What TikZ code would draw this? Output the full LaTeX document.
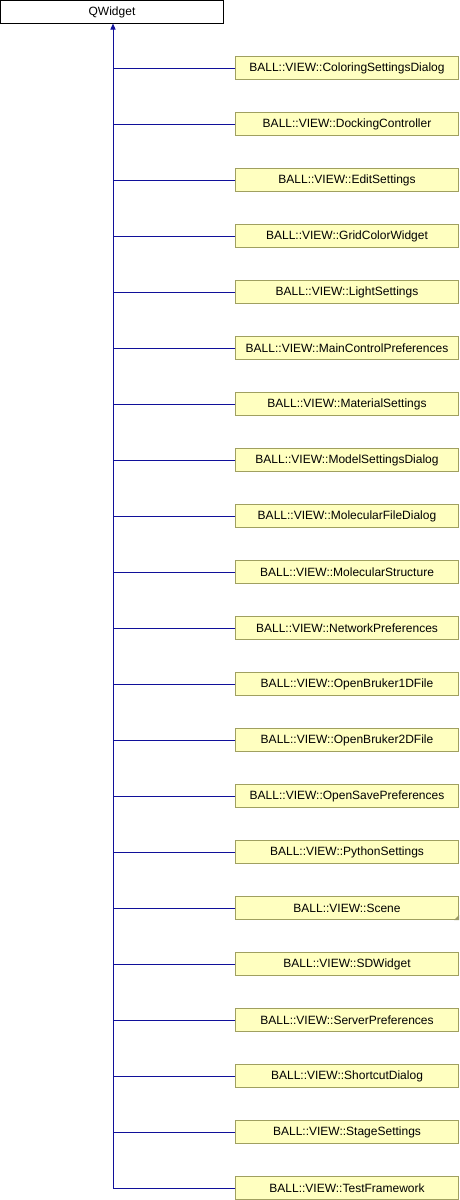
\documentclass[tikz,border=0pt]{standalone}
\usepackage{fontspec}
\setmainfont{Liberation Sans}
\usetikzlibrary{arrows.meta}
\definecolor{boxfill}{HTML}{FFFFC0}
\definecolor{boxdraw}{HTML}{A0A060}
\definecolor{edgeblue}{HTML}{10109A}
\begin{document}
\begin{tikzpicture}[x=1pt,y=-1pt,
  base/.style={draw, line width=1pt, minimum width=223pt, minimum height=23pt, inner sep=0pt, font=\fontsize{12}{14}\selectfont, anchor=center},
  rootbox/.style={base, draw=black, fill=white},
  classbox/.style={base, draw=boxdraw, fill=boxfill},
  edge/.style={draw=edgeblue, line width=1pt}
]
\useasboundingbox (0,0) rectangle (460,1200);
\node[rootbox] (root) at (112,12) {QWidget};
\coordinate (trunk) at (113,23.5);
\foreach \name [count=\i from 0] in {ColoringSettingsDialog,DockingController,EditSettings,GridColorWidget,LightSettings,MainControlPreferences,MaterialSettings,ModelSettingsDialog,MolecularFileDialog,MolecularStructure,NetworkPreferences,OpenBruker1DFile,OpenBruker2DFile,OpenSavePreferences,PythonSettings,Scene,SDWidget,ServerPreferences,ShortcutDialog,StageSettings,TestFramework}{
  \node[classbox] (c\i) at (347,68+56*\i) {BALL::VIEW::\name};
  \coordinate (j\i) at (113,68+56*\i);
  \draw[edge] (c\i.west) -- (j\i);
}
\draw[edge, -{Triangle[length=6pt,width=5pt]}] (j20) -- (trunk);
\fill[boxdraw!80!gray] (c15.south east) -- ++(-5,0) -- ++(5,-5) -- cycle;
\end{tikzpicture}
\end{document}
